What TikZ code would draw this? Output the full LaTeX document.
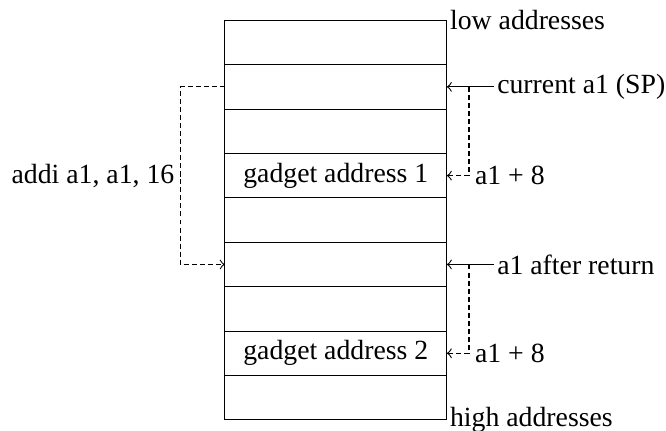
\documentclass[tikz,border=0pt]{standalone}
\usepackage{fontspec}
\setmainfont{Liberation Serif}
\usetikzlibrary{positioning}

\begin{document}
\begin{tikzpicture}[node distance=0pt, cell/.style={rectangle, draw, minimum width=80pt, minimum height=16pt, inner sep=0pt, outer sep=0pt}, dsh/.style={dash pattern=on 1.8pt off 1.1pt}, lbl/.style={inner sep=1pt}]
		\useasboundingbox (0,0) rectangle (240pt,-155pt);

		\node[cell, anchor=north west] (R1) at (81pt,-7.3pt) {};
		\node[cell, below=of R1] (R2) {};
		\node[cell, below=of R2] (R3) {};
		\node[cell, below=of R3] (R4) {gadget address 1};
		\node[cell, below=of R4] (R5) {};
		\node[cell, below=of R5] (R6) {};
		\node[cell, below=of R6] (R7) {};
		\node[cell, below=of R7] (R8) {gadget address 2};
		\node[cell, below=of R8] (R9) {};

		\node[lbl, anchor=west] (lo) at (R1.north east) {low addresses};
		\node[lbl, anchor=west] (hi) at (R9.south east) {high addresses};

		\node[lbl, right=17pt of R2] (cur) {current a1 (SP)};
		\coordinate[right=8pt of R2] (j1);
		\node[inner sep=2pt, right=8pt of R4] (p1) {a1 + 8};
		\node[lbl, right=17pt of R6] (ret) {a1 after return};
		\coordinate[right=8pt of R6] (j2);
		\node[inner sep=2pt, right=8pt of R8] (p2) {a1 + 8};
		\node[inner sep=2pt, left=16pt of R4] (addi) {addi a1, a1, 16};

		\draw[->] (cur) -- (R2);
		\draw[dsh, ->] (j1) -- (p1.west) -- (R4.east);
		\draw[->] (ret) -- (R6);
		\draw[dsh, ->] (j2) -- (p2.west) -- (R8.east);
		\draw[dsh, ->] (R2.west) -| (addi.east) |- (R6.west);
	\end{tikzpicture}
\end{document}
